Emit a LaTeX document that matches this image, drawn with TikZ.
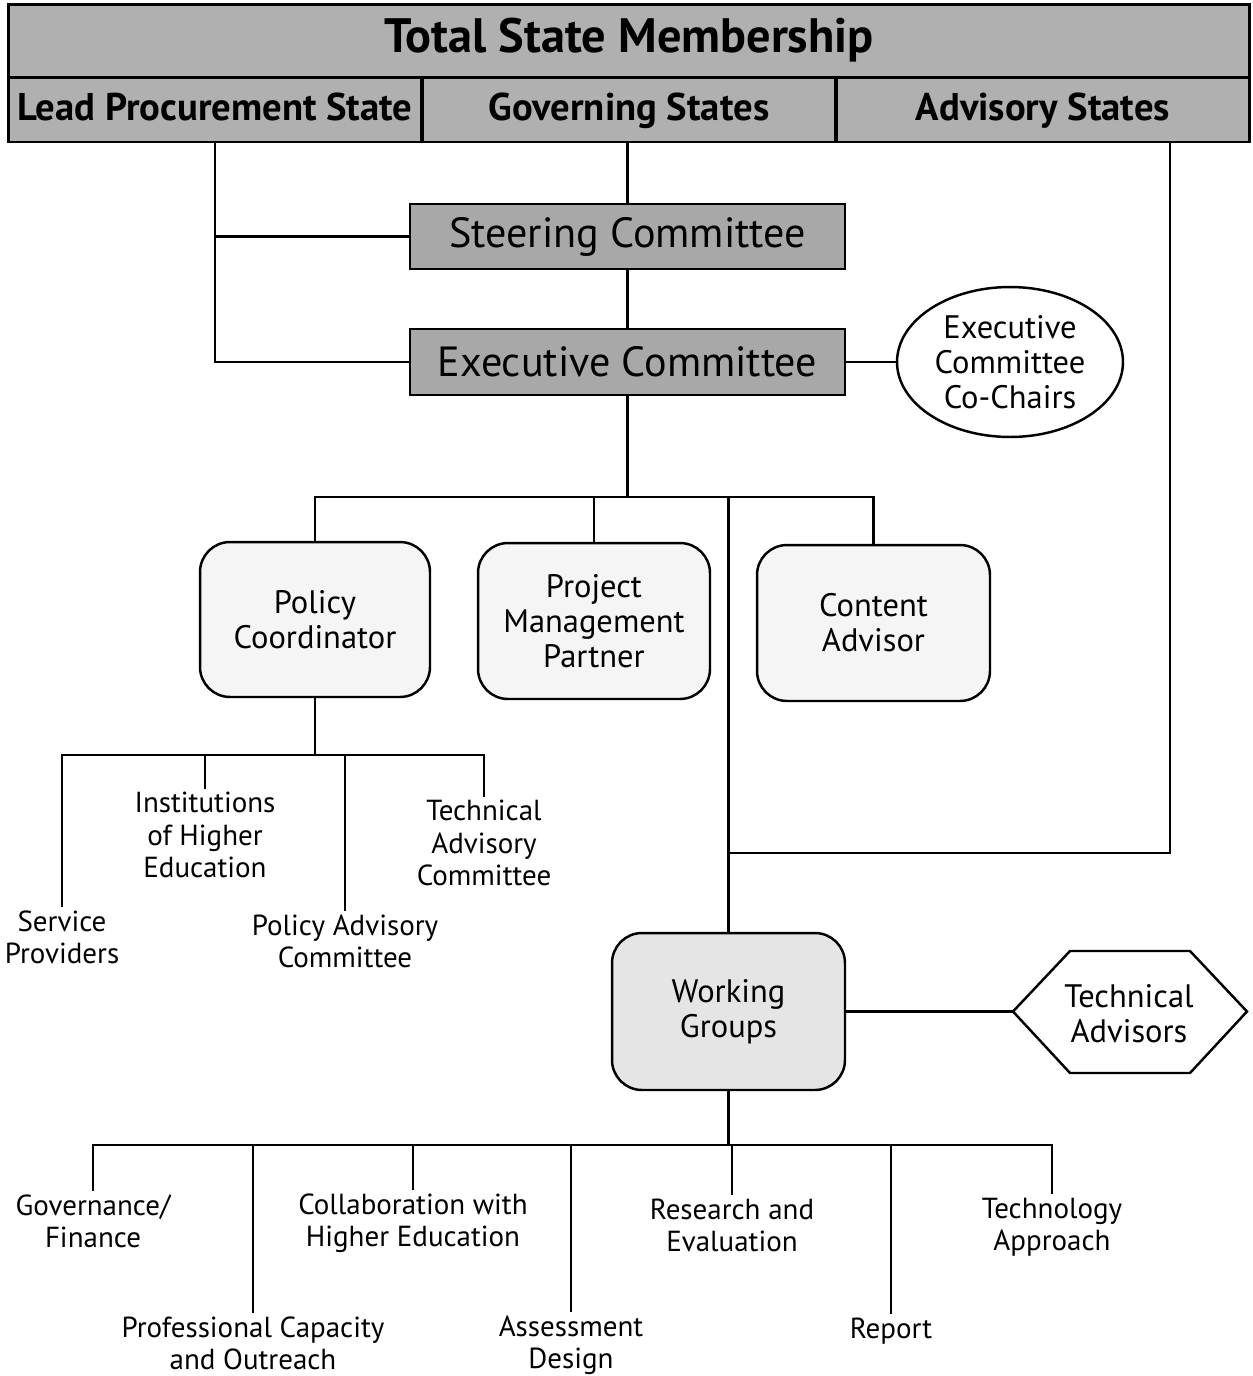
\documentclass[tikz,border=0pt]{standalone}
\usepackage{fontspec}
\setmainfont{PT Sans}
\usetikzlibrary{shapes.geometric}
\begin{document}
\begin{tikzpicture}[x=0.02cm,y=-0.02cm,
  conn/.style={line width=1.2pt},
  banner/.style={draw,line width=1.7pt,fill=gray!62,inner sep=0pt,text height=16pt,text depth=4pt,font=\bfseries\fontsize{22}{26}\selectfont},
  cmte/.style={draw,line width=1.5pt,fill=gray!68,inner sep=0pt,minimum width=8.7cm,minimum height=1.3cm,font=\fontsize{24}{28}\selectfont},
  rbox/.style={draw,line width=1.4pt,rounded corners=0.6cm,fill=gray!8,inner sep=0pt,minimum width=4.64cm,minimum height=3.12cm,align=center,font=\fontsize{18.5}{20}\selectfont},
  lbl/.style={align=center,inner sep=2pt,font=\fontsize{16.5}{18.3}\selectfont}]
\useasboundingbox (0,0) rectangle (1252,1376);
% banner
\node[banner,minimum width=24.84cm,minimum height=1.46cm,text height=20pt,text depth=6pt,font=\bfseries\fontsize{27.5}{30}\selectfont] (total) at (629,40.5) {Total State Membership};
\node[banner,minimum width=8.28cm,minimum height=1.3cm] (lead) at (215,109.5) {Lead Procurement State};
\node[banner,minimum width=8.28cm,minimum height=1.3cm] (gov) at (629,109.5) {Governing States};
\node[banner,minimum width=8.28cm,minimum height=1.3cm] (adv) at (1043,109.5) {Advisory States};
\coordinate (a1) at (1170,142);
% committees
\node[cmte] (steer) at (627.5,236.5) {Steering Committee};
\node[cmte,minimum height=1.32cm] (exec) at (627.5,362) {Executive Committee};
\node[draw,ellipse,line width=1.4pt,inner sep=0pt,minimum width=4.52cm,minimum height=3.0cm,align=center,font=\fontsize{18.5}{20}\selectfont] (chairs) at (1010,362) {Executive\\Committee\\Co-Chairs};
% second level
\node[rbox,minimum width=4.6cm,minimum height=3.1cm] (policy) at (315,619.5) {Policy\\Coordinator};
\node[rbox] (pm) at (594,621) {Project\\Management\\Partner};
\node[rbox,minimum width=4.66cm] (content) at (873.5,623) {Content\\Advisor};
\node[rbox,fill=gray!20,minimum width=4.66cm,minimum height=3.14cm] (wg) at (728.5,1011.5) {Working\\Groups};
% hexagon
\coordinate (hexL) at (1013,1011.5);
\draw[line width=1.4pt] (hexL) -- (1070,951) -- (1190,951) -- (1247,1011.5) -- (1190,1073) -- (1070,1073) -- cycle;
\node[align=center,font=\fontsize{18.5}{20}\selectfont] (techadv) at (1129,1014) {Technical\\Advisors};
% policy subtree labels
\node[lbl] (sp) at (62,937) {Service\\Providers};
\node[lbl] (ihe) at (205,835) {Institutions\\of Higher\\Education};
\node[lbl] (pac) at (345,941) {Policy Advisory\\Committee};
\node[lbl] (tac) at (484,843) {Technical\\Advisory\\Committee};
% wg subtree labels
\node[lbl] (gf) at (93,1221) {Governance/\\Finance};
\node[lbl] (pco) at (253,1343) {Professional Capacity\\and Outreach};
\node[lbl] (cwhe) at (413,1223) {Collaboration with\\Higher Education};
\node[lbl] (ad) at (571,1345) {Assessment\\Design};
\node[lbl] (re) at (732,1225) {Research and\\Evaluation};
\node[lbl] (rep) at (891,1331) {Report};
\node[lbl] (ta) at (1052,1227) {Technology\\Approach};
% bar coordinates
\coordinate (b1) at (625,497);
\coordinate (j1) at (728.5,853);
\coordinate (b2) at (318,755);
\coordinate (b3) at (698,1145);
% connectors top
\draw[conn] (lead.south) |- (exec.west);
\draw[conn] (lead.south |- steer.west) -- (steer.west);
\draw[conn] (steer.north |- gov.south) -- (steer.north);
\draw[conn] (steer.south) -- (exec.north);
\draw[conn] (exec.east) -- (chairs.west);
\draw[conn] (exec.south) -- (exec.south |- b1);
\draw[conn] (policy.north) -- (policy.north |- b1) -- (content.north |- b1) -- (content.north);
\draw[conn] (pm.north) -- (pm.north |- b1);
\draw[conn] (wg.north |- b1) -- (wg.north);
\draw[conn] (a1) |- (j1);
% policy subtree
\draw[conn] (policy.south) -- (policy.south |- b2);
\draw[conn] (sp.north) -- (sp.north |- b2) -- (tac.north |- b2) -- (tac.north);
\draw[conn] (ihe.north) -- (ihe.north |- b2);
\draw[conn] (pac.north) -- (pac.north |- b2);
% wg subtree
\draw[conn] (wg.east) -- (hexL);
\draw[conn] (wg.south) -- (wg.south |- b3);
\draw[conn] (gf.north) -- (gf.north |- b3) -- (ta.north |- b3) -- (ta.north);
\draw[conn] (pco.north) -- (pco.north |- b3);
\draw[conn] (cwhe.north) -- (cwhe.north |- b3);
\draw[conn] (ad.north) -- (ad.north |- b3);
\draw[conn] (re.north) -- (re.north |- b3);
\draw[conn] (rep.north) -- (rep.north |- b3);
\end{tikzpicture}
\end{document}
